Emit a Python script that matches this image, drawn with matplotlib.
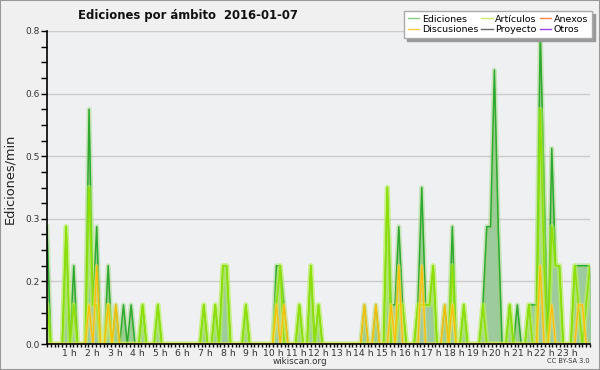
import numpy as np
import matplotlib
matplotlib.use("Agg")
import matplotlib.pyplot as plt
from matplotlib.ticker import FixedLocator, MultipleLocator, FormatStrFormatter
from matplotlib.lines import Line2D
from matplotlib.patches import Rectangle

title = "Ediciones por ámbito  2016-01-07"
ylabel = "Ediciones/min"
hour_ticks = list(range(1, 24))
hour_labels = [f"{h} h" for h in hour_ticks]
y_ticks = [0.0, 0.16, 0.32, 0.48, 0.64, 0.8]

# edits/min per ~10-minute bin (144 bins)
ediciones = [
    0.3, 0, 0, 0, 0, 0.3, 0, 0.2, 0, 0, 0, 0.6,
    0.1, 0.3, 0, 0, 0.2, 0, 0.1, 0, 0.1, 0, 0.1, 0,
    0, 0.1, 0, 0, 0, 0.1, 0, 0, 0, 0, 0, 0,
    0, 0, 0, 0, 0, 0.1, 0, 0, 0.1, 0, 0.2, 0.2,
    0, 0, 0, 0, 0.1, 0, 0, 0, 0, 0, 0, 0,
    0.2, 0.2, 0.1, 0, 0, 0, 0.1, 0, 0, 0.2, 0, 0.1,
    0, 0, 0, 0, 0, 0, 0, 0, 0, 0, 0, 0.1,
    0, 0, 0.1, 0, 0, 0.4, 0.1, 0.1, 0.3, 0.1, 0, 0,
    0, 0.1, 0.4, 0.1, 0.1, 0.2, 0, 0, 0.1, 0, 0.3, 0,
    0, 0.1, 0, 0, 0, 0, 0.1, 0.3, 0.3, 0.7, 0.3, 0,
    0, 0.1, 0, 0.1, 0, 0, 0.1, 0.1, 0.1, 0.8, 0.4, 0,
    0.5, 0.2, 0.2, 0, 0, 0, 0.2, 0.2, 0.2, 0.2, 0.2, 0,
]
articulos = [
    0.1, 0, 0, 0, 0, 0.3, 0, 0.1, 0, 0, 0, 0.4,
    0.1, 0.1, 0, 0, 0.1, 0, 0, 0, 0, 0, 0, 0,
    0, 0.1, 0, 0, 0, 0.1, 0, 0, 0, 0, 0, 0,
    0, 0, 0, 0, 0, 0.1, 0, 0, 0.1, 0, 0.2, 0.2,
    0, 0, 0, 0, 0.1, 0, 0, 0, 0, 0, 0, 0,
    0.1, 0.2, 0, 0, 0, 0, 0.1, 0, 0, 0.2, 0, 0.1,
    0, 0, 0, 0, 0, 0, 0, 0, 0, 0, 0, 0,
    0, 0, 0, 0, 0, 0.4, 0, 0, 0.1, 0.1, 0, 0,
    0, 0.1, 0.1, 0.1, 0.1, 0.2, 0, 0, 0, 0, 0.2, 0,
    0, 0.1, 0, 0, 0, 0, 0.1, 0, 0, 0, 0, 0,
    0, 0.1, 0, 0, 0, 0, 0.1, 0, 0, 0.6, 0.2, 0,
    0.3, 0.2, 0.2, 0, 0, 0, 0.2, 0.1, 0, 0.1, 0.2, 0,
]
discusiones = [
    0, 0, 0, 0, 0, 0, 0, 0, 0, 0, 0, 0.1,
    0, 0.2, 0, 0, 0.1, 0, 0.1, 0, 0, 0, 0, 0,
    0, 0, 0, 0, 0, 0, 0, 0, 0, 0, 0, 0,
    0, 0, 0, 0, 0, 0, 0, 0, 0, 0, 0, 0,
    0, 0, 0, 0, 0, 0, 0, 0, 0, 0, 0, 0,
    0.1, 0, 0.1, 0, 0, 0, 0, 0, 0, 0, 0, 0,
    0, 0, 0, 0, 0, 0, 0, 0, 0, 0, 0, 0.1,
    0, 0, 0.1, 0, 0, 0, 0.1, 0, 0.2, 0, 0, 0,
    0, 0, 0.2, 0, 0, 0, 0, 0, 0.1, 0, 0.1, 0,
    0, 0, 0, 0, 0, 0, 0, 0, 0, 0, 0, 0,
    0, 0, 0, 0, 0, 0, 0, 0, 0, 0.2, 0, 0,
    0.1, 0, 0, 0, 0, 0, 0, 0.1, 0.1, 0, 0, 0,
]

legend_names = ["Ediciones", "Discusiones", "Artículos", "Proyecto", "Anexos", "Otros"]
legend_colors = ["#88cc88", "#ffcc44", "#ccee66", "#666666", "#ff8844", "#9944ee"]

n = len(ediciones)
hours_per_bin = 24 / 142
t = np.arange(n) * hours_per_bin

plt.rcParams["font.family"] = ["DejaVu Sans"]
fig = plt.figure(figsize=(6, 3.7), dpi=100, facecolor="#f0f0f0")
ax = fig.add_axes([47 / 600, 1 - 344 / 370, 543 / 600, 313 / 370])
ax.set_facecolor("#eff0f2")

ax.fill_between(t, 0, ediciones, color="#9ecb9e", lw=0, zorder=2)
ax.plot(t, ediciones, color="#8fd36a", lw=3.6, alpha=0.4, zorder=3)
ax.plot(t, ediciones, color="#2ea82e", lw=1.1, zorder=3.5)
ax.plot(t, articulos, color="#c6ff4a", lw=3.8, alpha=0.45, zorder=4)
ax.plot(t, articulos, color="#8fe000", lw=1.1, zorder=5)
ax.plot(t, discusiones, color="#ffe066", lw=2.6, alpha=0.5, zorder=6)
ax.plot(t, discusiones, color="#ffbf00", lw=0.9, zorder=7)

ax.set_xlim(0, 24)
ax.set_ylim(0, 0.8)
ax.yaxis.set_major_locator(FixedLocator(y_ticks))
ax.yaxis.set_major_formatter(FormatStrFormatter("%.1f"))
ax.yaxis.set_minor_locator(MultipleLocator(0.04))
ax.xaxis.set_major_locator(FixedLocator(hour_ticks))
ax.set_xticklabels(hour_labels)
ax.xaxis.set_minor_locator(MultipleLocator(1 / 6))
ax.grid(axis="y", which="major", color="#cccccc", lw=1, zorder=1)
ax.set_axisbelow(True)

for s in ["top", "right"]:
    ax.spines[s].set_visible(False)
for s in ["left", "bottom"]:
    ax.spines[s].set_color("black")
    ax.spines[s].set_linewidth(1.2)
    ax.spines[s].set_zorder(10)

ax.tick_params(axis="y", which="both", direction="out", length=4, width=1,
               labelsize=6.5, labelcolor="#333333", pad=1)
ax.tick_params(axis="x", which="both", direction="out", length=2.5, width=1,
               labelsize=6.7, labelcolor="#333333", pad=1)

fig.text(188 / 600, 1 - 15 / 370, title, ha="center", va="center",
         fontsize=8.4, fontweight="bold", color="#111111")
fig.text(10 / 600, 1 - 179 / 370, ylabel, rotation=90, ha="center", va="center",
         fontsize=9.3, color="#222222")
fig.text(300 / 600, 1 - 361 / 370, "wikiscan.org", ha="center", va="center",
         fontsize=6.3, color="#333333")
fig.text(590 / 600, 1 - 361 / 370, "CC BY-SA 3.0", ha="right", va="center",
         fontsize=4.8, color="#333333")

handles = [Line2D([], [], color=c, lw=1) for c in legend_colors]
fig.legend(handles, legend_names, ncol=3, loc="upper right",
           bbox_to_anchor=(592 / 600, 1 - 11 / 370), fontsize=6.8,
           frameon=True, fancybox=False, edgecolor="#aaaaaa", framealpha=1,
           shadow={"color": "#999999", "alpha": 1},
           handlelength=1.2, handletextpad=0.3, columnspacing=0.3,
           labelspacing=0.15, borderpad=0.4, borderaxespad=0)

fig.patches.append(Rectangle((0, 0), 1, 1, transform=fig.transFigure, fill=False,
                             edgecolor="#999999", lw=1.5, zorder=20))

fig.savefig("out.png", dpi=100, facecolor=fig.get_facecolor())
